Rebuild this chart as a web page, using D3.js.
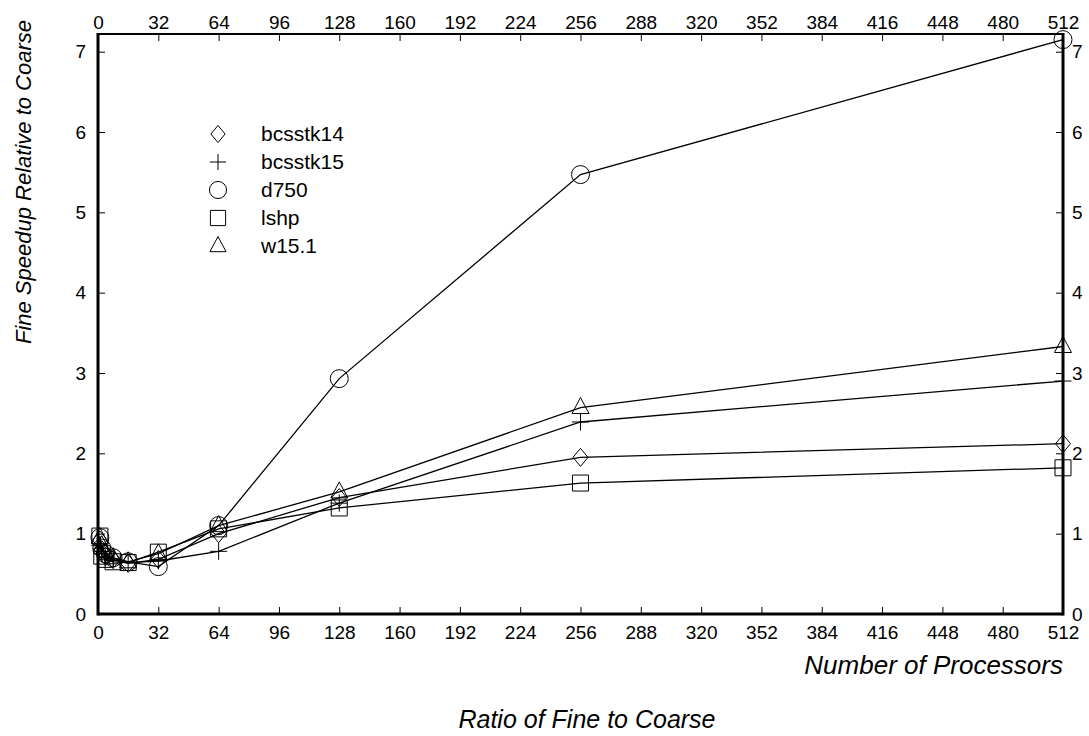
<!DOCTYPE html>
<html>
<head>
<meta charset="utf-8">
<script src="https://cdn.jsdelivr.net/npm/d3@7"></script>
<style>
  body { margin: 0; background: white; }
  svg { display: block; font-family: "Liberation Sans", Arial, sans-serif; }
</style>
</head>
<body>
<svg id="chart" width="1089" height="736"></svg>
<script>
const ratios = [1, 2, 4, 8, 16, 32, 64, 128, 256, 512];
const bcsstk14 = [0.92, 0.80, 0.72, 0.68, 0.63, 0.68, 1.00, 1.45, 1.95, 2.12];
const bcsstk15 = [0.85, 0.75, 0.70, 0.67, 0.64, 0.66, 0.78, 1.38, 2.39, 2.90];
const d750 = [0.95, 0.82, 0.75, 0.70, 0.65, 0.59, 1.10, 2.93, 5.47, 7.15];
const lshp = [0.97, 0.72, 0.68, 0.65, 0.64, 0.77, 1.06, 1.32, 1.63, 1.82];
const w151 = [0.95, 0.85, 0.75, 0.70, 0.65, 0.75, 1.10, 1.52, 2.57, 3.33];
const xTicks = d3.range(0, 513, 32);
const yTicks = [0, 1, 2, 3, 4, 5, 6, 7];

const series = [
  { name: "bcsstk14", values: bcsstk14, shape: "diamond" },
  { name: "bcsstk15", values: bcsstk15, shape: "plus" },
  { name: "d750", values: d750, shape: "circle" },
  { name: "lshp", values: lshp, shape: "square" },
  { name: "w15.1", values: w151, shape: "triangle" },
];

const svg = d3.select("#chart");
const plotLeft = 98, plotRight = 1063, plotTop = 34, plotBottom = 614;

const x = d3.scaleLinear().domain([0, 512]).range([plotLeft, plotRight]);
const y = d3.scaleLinear().domain([0, 7.22]).range([plotBottom, plotTop]);

// marker paths, centred on 0,0
function markerPath(shape, k = 1) {
  const p = d3.path();
  if (shape === "diamond") {
    p.moveTo(0, -9 * k); p.lineTo(7.5 * k, 0); p.lineTo(0, 9 * k); p.lineTo(-7.5 * k, 0); p.closePath();
  } else if (shape === "plus") {
    p.moveTo(-8.5 * k, 0); p.lineTo(8.5 * k, 0); p.moveTo(0, -8.5 * k); p.lineTo(0, 8.5 * k);
  } else if (shape === "circle") {
    p.moveTo(9 * k, 0); p.arc(0, 0, 9 * k, 0, 2 * Math.PI);
  } else if (shape === "square") {
    p.rect(-8 * k, -8 * k, 16 * k, 16 * k);
  } else if (shape === "triangle") {
    p.moveTo(0, -10 * k); p.lineTo(8.5 * k, 6 * k); p.lineTo(-8.5 * k, 6 * k); p.closePath();
  }
  return p.toString();
}

const line = d3.line().x((d) => x(d[0])).y((d) => y(d[1]));

const plot = svg.append("g");
series.forEach((s) => {
  const pts = ratios.map((r, i) => [r, s.values[i]]);
  plot.append("path")
    .attr("d", line(pts))
    .attr("fill", "none")
    .attr("stroke", "black")
    .attr("stroke-width", 1.3);
  plot.selectAll(null)
    .data(pts)
    .enter()
    .append("path")
    .attr("transform", (d) => `translate(${x(d[0])},${y(d[1])})`)
    .attr("d", markerPath(s.shape))
    .attr("fill", "none")
    .attr("stroke", "black")
    .attr("stroke-width", 1);
});

// Axes (ticks inward)
const fontSize = 19;
const bottomAxis = d3.axisBottom(x).tickValues(xTicks).tickSize(-7).tickPadding(12);
const topAxis = d3.axisTop(x).tickValues(xTicks).tickSize(-7).tickPadding(5);
const leftAxis = d3.axisLeft(y).tickValues(yTicks).tickFormat(d3.format("d")).tickSize(-7).tickPadding(12);
const rightAxis = d3.axisRight(y).tickValues(yTicks).tickFormat(d3.format("d")).tickSize(-7).tickPadding(9);

function styleAxis(g) {
  g.select(".domain").remove();
  g.selectAll("text").attr("font-size", fontSize).attr("fill", "black")
    .attr("font-family", "Liberation Sans, Arial, sans-serif");
  g.selectAll("line").attr("stroke", "black").attr("stroke-width", 1);
}

svg.append("g").attr("transform", `translate(0,${plotBottom})`).call(bottomAxis).call(styleAxis);
svg.append("g").attr("transform", `translate(0,${plotTop})`).call(topAxis).call(styleAxis);
svg.append("g").attr("transform", `translate(${plotLeft},0)`).call(leftAxis).call(styleAxis);
svg.append("g").attr("transform", `translate(${plotRight},0)`).call(rightAxis).call(styleAxis);

// Frame
svg.append("line").attr("x1", plotLeft).attr("x2", plotRight).attr("y1", plotTop).attr("y2", plotTop)
  .attr("stroke", "black").attr("stroke-width", 2);
svg.append("line").attr("x1", plotLeft).attr("x2", plotRight).attr("y1", plotBottom).attr("y2", plotBottom)
  .attr("stroke", "black").attr("stroke-width", 3);
svg.append("line").attr("x1", plotLeft).attr("x2", plotLeft).attr("y1", plotTop - 1).attr("y2", plotBottom + 1.5)
  .attr("stroke", "black").attr("stroke-width", 3);
svg.append("line").attr("x1", plotRight).attr("x2", plotRight).attr("y1", plotTop - 1).attr("y2", plotBottom + 1.5)
  .attr("stroke", "black").attr("stroke-width", 3);

// Legend
const legend = svg.append("g").attr("transform", "translate(218,134)");
series.forEach((s, i) => {
  const row = legend.append("g").attr("transform", `translate(0,${i * 28})`);
  row.append("path").attr("d", markerPath(s.shape, 0.95))
    .attr("fill", "none").attr("stroke", "black").attr("stroke-width", 1);
  row.append("text").attr("x", 43).attr("y", 7)
    .attr("font-size", 21).text(s.name);
});

// Axis titles
svg.append("text")
  .attr("x", plotRight).attr("y", 674)
  .attr("text-anchor", "end")
  .attr("font-size", 26).attr("font-style", "italic")
  .text("Number of Processors");

svg.append("text")
  .attr("x", 587).attr("y", 728)
  .attr("text-anchor", "middle")
  .attr("font-size", 25).attr("font-style", "italic")
  .text("Ratio of Fine to Coarse");

svg.append("text")
  .attr("transform", "translate(31,182) rotate(-90)")
  .attr("text-anchor", "middle")
  .attr("font-size", 22).attr("font-style", "italic")
  .text("Fine Speedup Relative to Coarse");
</script>
</body>
</html>
